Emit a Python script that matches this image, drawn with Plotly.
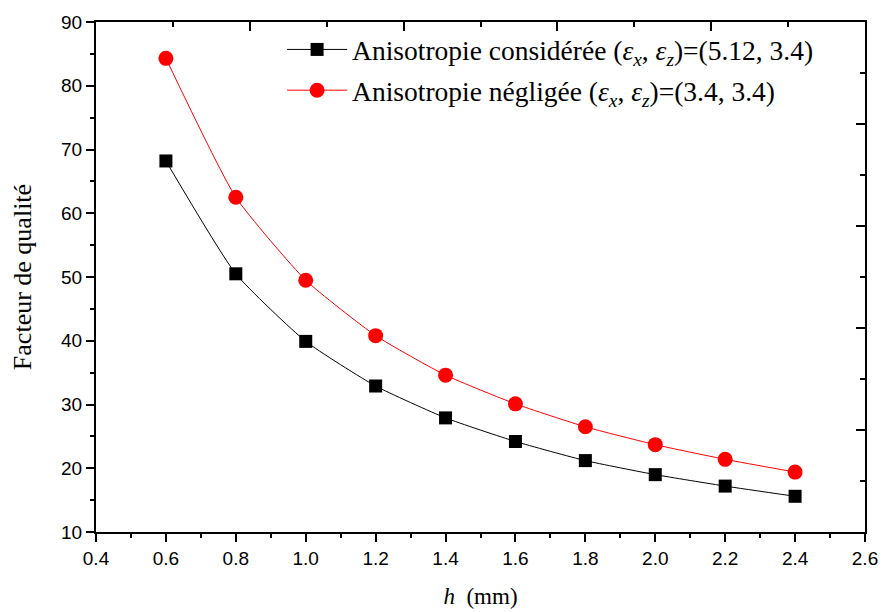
import plotly.graph_objects as go

h = [0.6, 0.8, 1.0, 1.2, 1.4, 1.6, 1.8, 2.0, 2.2, 2.4]
q_aniso = [68.2, 50.5, 39.9, 32.9, 27.9, 24.2, 21.2, 19.0, 17.2, 15.6]
q_iso = [84.3, 62.5, 49.5, 40.8, 34.6, 30.1, 26.5, 23.7, 21.4, 19.4]

name_aniso = "Anisotropie considérée (<i>ε</i><sub><i>x</i></sub>, <i>ε</i><sub><i>z</i></sub>)=(5.12, 3.4)"
name_iso = "Anisotropie négligée (<i>ε</i><sub><i>x</i></sub>, <i>ε</i><sub><i>z</i></sub>)=(3.4, 3.4)"

serif = "Liberation Serif"
sans = "Liberation Sans, Arial, sans-serif"

fig = go.Figure()
fig.add_trace(go.Scatter(
    x=h, y=q_aniso, mode="lines+markers", name=name_aniso, legendgroup="a",
    line=dict(color="black", width=1, shape="spline", smoothing=0.5),
    marker=dict(symbol="square", size=13, color="black"),
))
fig.add_trace(go.Scatter(
    x=h, y=q_iso, mode="lines+markers", name=name_iso, legendgroup="b",
    line=dict(color="red", width=1, shape="spline", smoothing=0.5),
    marker=dict(symbol="circle", size=15, color="red"),
))
# dummy trace to activate mirror axes
fig.add_trace(go.Scatter(x=[None], y=[None], xaxis="x2", yaxis="y2",
                         showlegend=False, hoverinfo="skip"))

axis_common = dict(showline=True, linecolor="black", linewidth=2,
                   tickcolor="black", tickwidth=2, showgrid=False, zeroline=False)

fig.update_layout(
    width=885, height=612,
    margin=dict(l=96, r=20, t=18, b=80),
    plot_bgcolor="white", paper_bgcolor="white",
    xaxis=dict(range=[0.4, 2.6], dtick=0.2, tick0=0.4, tickformat=".1f",
               ticks="outside", ticklen=8, automargin=False,
               minor=dict(dtick=0.1, ticks="outside", ticklen=4, tickcolor="black", tickwidth=2),
               tickfont=dict(family=sans, size=19, color="black"),
               title=dict(text="<i>h</i>  (mm)",
                          font=dict(family="Times New Roman, Liberation Serif, serif", size=23, color="black"),
                          standoff=20),
               **axis_common),
    yaxis=dict(range=[10, 90], dtick=10, tick0=10,
               ticks="outside", ticklen=8,
               minor=dict(dtick=5, ticks="outside", ticklen=4, tickcolor="black", tickwidth=2),
               tickfont=dict(family=sans, size=19, color="black"),
               title=dict(text="Facteur de qualité", font=dict(family=serif, size=26, color="black"), standoff=22),
               **axis_common),
    xaxis2=dict(overlaying="x", side="top", anchor="y2", range=[0, 10], dtick=2, tick0=0,
                ticks="inside", ticklen=9, showticklabels=False,
                minor=dict(dtick=1, ticks="inside", ticklen=5, tickcolor="black", tickwidth=2),
                **axis_common),
    yaxis2=dict(overlaying="y", side="right", anchor="x2", range=[0, 10], dtick=2, tick0=0,
                ticks="inside", ticklen=9, showticklabels=False,
                minor=dict(dtick=1, ticks="inside", ticklen=5, tickcolor="black", tickwidth=2),
                **axis_common),
    legend=dict(x=0.242, y=0.994, xanchor="left", yanchor="top",
                font=dict(family=serif, size=27.5, color="black"),
                bgcolor="rgba(0,0,0,0)", tracegroupgap=2, itemwidth=60),
    showlegend=True,
)

fig.write_html("out.html")
